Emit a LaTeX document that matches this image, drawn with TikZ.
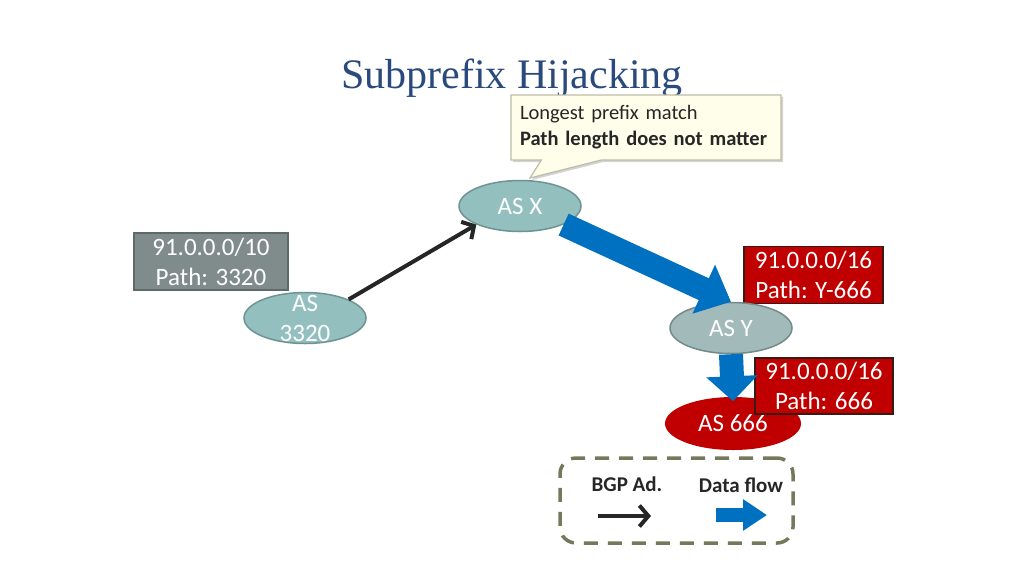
\documentclass[tikz,border=0pt]{standalone}
\usepackage{fontspec}
\setmainfont{Carlito}
\newfontfamily\titlefont{Liberation Serif}
\usetikzlibrary{arrows.meta,shapes,shadows,positioning}

\definecolor{asfill}{HTML}{93BFBF}
\definecolor{asborder}{HTML}{6F9393}
\definecolor{asyfill}{HTML}{A3BABA}
\definecolor{asyborder}{HTML}{738A8A}
\definecolor{hijack}{HTML}{C00000}
\definecolor{hijackborder}{HTML}{3A1A14}
\definecolor{legitfill}{HTML}{7F8C8B}
\definecolor{legitborder}{HTML}{5E6A69}
\definecolor{flowblue}{HTML}{0070C0}
\definecolor{advblack}{HTML}{262626}
\definecolor{legendline}{HTML}{76785C}
\definecolor{titleblue}{HTML}{2A4A7D}
\definecolor{notefill}{HTML}{FFFEEA}
\definecolor{noteborder}{HTML}{BDBCA6}

\tikzset{
	asnode/.style={ellipse, draw=asborder, fill=asfill, line width=1.5pt, minimum width=122pt, minimum height=51pt, inner sep=0pt, text=white, font=\fontsize{25}{30}\selectfont},
	astext/.style={inner sep=0pt, align=center, text=white, font=\fontsize{25}{30}\selectfont},
	routebox/.style={rectangle, line width=1.5pt, minimum width=139pt, minimum height=57pt, inner sep=0pt, align=center, text=white, font=\fontsize{25}{30}\selectfont},
	bgpad/.style={draw=advblack, line width=4pt, -{Straight Barb[length=9pt,width=20pt,line width=4pt]}},
	dataflow/.style={draw=flowblue, line width=24pt, -{Triangle[length=30pt,width=52pt]}},
	legendtext/.style={inner sep=0pt, text=black!85, font=\fontsize{21}{24}\selectfont\bfseries}
}

\begin{document}
\begin{tikzpicture}[x=1pt, y=-1pt]
			\useasboundingbox (0,0) rectangle (1024,576);
			\node[anchor=base, text=titleblue, font=\titlefont\fontsize{42}{48}\selectfont] (title) at (512,88) {Subprefix Hijacking};
			\node[asnode] (asx) at (520,206) {AS X};
			\node[asnode] (as3320) at (305,318) {};
			\node[astext] (as3320text) at (as3320) {AS\\3320};
			\node[routebox, fill=hijack, draw=hijackborder] (routey) at (813.5,275) {91.0.0.0/16\\Path: Y-666};
			\node[asnode, draw=asyborder, fill=asyfill] (asy) at (731,328) {AS Y};
			\node[asnode, draw=none, fill=hijack, minimum width=136pt, minimum height=53pt] (as666) at (733,423.5) {AS 666};
			\node[routebox, fill=hijack, draw=hijackborder, minimum width=138pt, minimum height=56pt] (route666) at (824,386) {91.0.0.0/16\\Path: 666};
			\node[routebox, fill=legitfill, draw=legitborder, minimum width=154pt] (route3320) at (211,261.5) {91.0.0.0/10\\Path: 3320};
			\node[rectangle callout, callout absolute pointer={(530,178)}, callout pointer width=60pt, draw=noteborder, fill=notefill, line width=1.2pt, drop shadow={opacity=0.35, shadow xshift=2pt, shadow yshift=-2pt}, minimum width=270pt, minimum height=65pt, text width=252pt, inner xsep=9pt, align=left, font=\fontsize{20.5}{26}\selectfont, text=black!85] (note) at (646,127.5) {Longest prefix match\\\textbf{Path length does not matter}};
			\draw[bgpad] (as3320.north east) -- (asx.south west);
			\draw[dataflow] (asx.south east) -- (asy.north);
			\draw[dataflow, -{Triangle[length=25pt,width=50pt]}] (asy.south) -- ([yshift=-5pt]as666.north);
			\node[draw=legendline, line width=3.5pt, dash pattern=on 14pt off 10pt, rounded corners=16pt, minimum width=233pt, minimum height=85pt] (legend) at (676.5,500.5) {};
			\node[legendtext] (bgplabel) at (627,484) {BGP Ad.};
			\node[legendtext] (flowlabel) at (741,485) {Data flow};
			\coordinate (bgpstart) at (598,516);
			\coordinate (bgpend) at (651,516);
			\coordinate (flowstart) at (716,515);
			\coordinate (flowend) at (767,515);
			\draw[bgpad, -{Straight Barb[length=9pt,width=21pt,line width=4pt]}] (bgpstart) -- (bgpend);
			\draw[dataflow, line width=14pt, -{Triangle[length=24pt,width=30pt]}] (flowstart) -- (flowend);
		\end{tikzpicture}
\end{document}
